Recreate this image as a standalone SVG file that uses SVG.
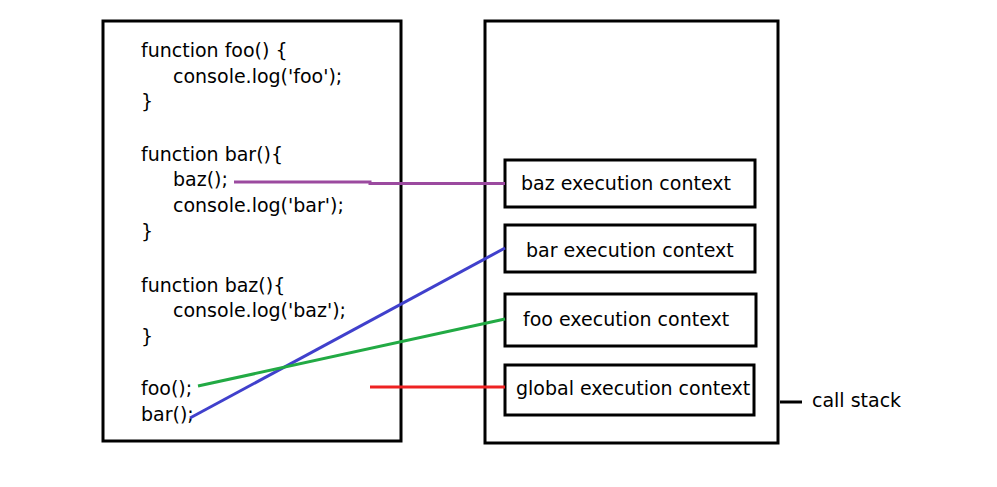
<svg xmlns="http://www.w3.org/2000/svg" width="997" height="487" viewBox="0 0 997 487">
<style>
.box{fill:#fff;stroke:#000;stroke-width:3}
.t{font-family:"DejaVu Sans",sans-serif;font-size:19px;fill:#000}
.c{fill:none;stroke-width:3}
</style>
<rect width="997" height="487" fill="#fff"/>
<g id="code">
<rect class="box" x="103" y="21" width="298" height="420"/>
<text class="t" x="141" y="57">function foo() {</text>
<text class="t" x="173" y="83">console.log('foo');</text>
<text class="t" x="141" y="108">}</text>
<text class="t" x="141" y="161">function bar(){</text>
<text class="t" x="173" y="186">baz();</text>
<text class="t" x="173" y="212">console.log('bar');</text>
<text class="t" x="141" y="238">}</text>
<text class="t" x="141" y="292">function baz(){</text>
<text class="t" x="173" y="317">console.log('baz');</text>
<text class="t" x="141" y="343">}</text>
<text class="t" x="141" y="395">foo();</text>
<text class="t" x="141" y="421">bar();</text>
</g>
<g id="callstack">
<rect class="box" x="485" y="21" width="293" height="422"/>
<line x1="780" y1="402" x2="802" y2="402" stroke="#000" stroke-width="3"/>
<text class="t" x="812" y="407">call stack</text>
</g>
<g id="baz-ctx">
<rect class="box" x="505" y="160" width="250" height="47"/>
<text class="t" x="521" y="190">baz execution context</text>
</g>
<g id="bar-ctx">
<rect class="box" x="505" y="225" width="250" height="47"/>
<text class="t" x="526" y="257">bar execution context</text>
</g>
<g id="foo-ctx">
<rect class="box" x="505" y="294" width="251" height="52"/>
<text class="t" x="523" y="326">foo execution context</text>
</g>
<g id="global-ctx">
<rect class="box" x="505" y="365" width="249" height="50"/>
<text class="t" x="516" y="395">global execution context</text>
</g>
<g id="connectors">
<polyline class="c" stroke="#9b4a9f" points="234,182 370,182 370,183.5 505,183.5"/>
<line class="c" stroke="#4040cc" x1="190" y1="418" x2="505" y2="248"/>
<line class="c" stroke="#22aa44" x1="198" y1="386" x2="505" y2="319"/>
<line class="c" stroke="#ee2222" x1="370" y1="387" x2="505" y2="387"/>
</g>
</svg>
